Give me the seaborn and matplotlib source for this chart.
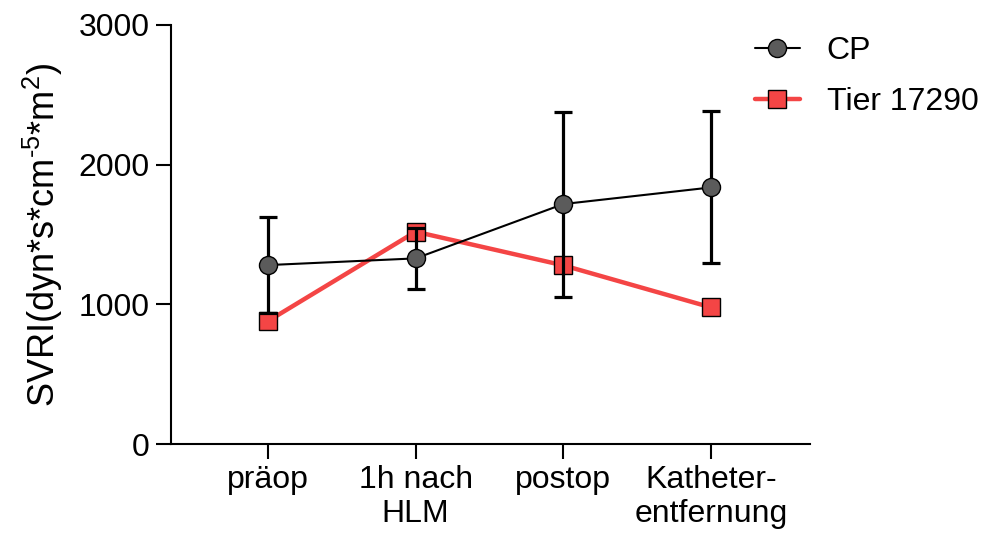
import matplotlib
matplotlib.use("Agg")
import matplotlib.pyplot as plt
import seaborn as sns
import pandas as pd

categories = ["präop", "1h nach\nHLM", "postop", "Katheter-\nentfernung"]
cp_mean = [1281, 1329, 1718, 1837]
cp_err = [345, 218, 662, 544]
tier_values = [880, 1520, 1279, 978]
yticks = [0, 1000, 2000, 3000]

sns.set_theme(style="ticks")
plt.rcParams["font.family"] = ["Liberation Sans", "DejaVu Sans"]
plt.rcParams["mathtext.fontset"] = "custom"
plt.rcParams["mathtext.rm"] = "Liberation Sans"
plt.rcParams["mathtext.it"] = "Liberation Sans"
plt.rcParams["text.color"] = "black"
plt.rcParams["axes.labelcolor"] = "black"
plt.rcParams["xtick.color"] = "black"
plt.rcParams["ytick.color"] = "black"

red = "#F44545"
gray = "#5b5b5b"

df_cp = pd.DataFrame({"x": categories, "y": cp_mean})
df_t = pd.DataFrame({"x": categories, "y": tier_values})

fig = plt.figure(figsize=(9.99, 5.34), dpi=100)
ax = fig.add_axes([170.5 / 999, 1 - 444 / 534, (810 - 170.5) / 999, (444 - 25) / 534])

sns.lineplot(data=df_t, x="x", y="y", ax=ax, sort=False, color=red, lw=3.2,
             marker="s", markersize=13, markerfacecolor=red, markeredgecolor="black",
             markeredgewidth=1.0, zorder=2, label="Tier 17290")
ax.errorbar(categories, cp_mean, yerr=cp_err, fmt="none", ecolor="black",
            elinewidth=2.3, capsize=6.5, capthick=2.3, zorder=3)
sns.lineplot(data=df_cp, x="x", y="y", ax=ax, sort=False, color="black", lw=1.5,
             marker="o", markersize=13, markerfacecolor=gray, markeredgecolor="black",
             markeredgewidth=1.0, zorder=4, label="CP")

ax.set_xlim(-0.66, 3.67)
ax.set_ylim(0, 3000)
ax.set_yticks(yticks)
ax.set_yticklabels([str(v) for v in yticks])
ax.set_xlabel("")
ax.set_ylabel(r"SVRI(dyn*s*cm$^{\text{-}5}$*m$^{2}$)", fontsize=26, labelpad=10)

for s in ["top", "right"]:
    ax.spines[s].set_visible(False)
for s in ["left", "bottom"]:
    ax.spines[s].set_linewidth(1.5)
    ax.spines[s].set_color("black")
ax.tick_params(axis="both", length=11, width=1.5, color="black", labelcolor="black",
               labelsize=23, pad=4)

handles, labels = ax.get_legend_handles_labels()
order = [labels.index("CP"), labels.index("Tier 17290")]
ax.legend([handles[i] for i in order], [labels[i] for i in order],
          loc="upper left", bbox_to_anchor=(755 / 999, 1 - 36 / 534),
          bbox_transform=fig.transFigure, frameon=False, fontsize=23,
          handlelength=1.4, handletextpad=0.85, labelspacing=0.66,
          borderpad=0, borderaxespad=0)

fig.savefig("out.png", dpi=100)
